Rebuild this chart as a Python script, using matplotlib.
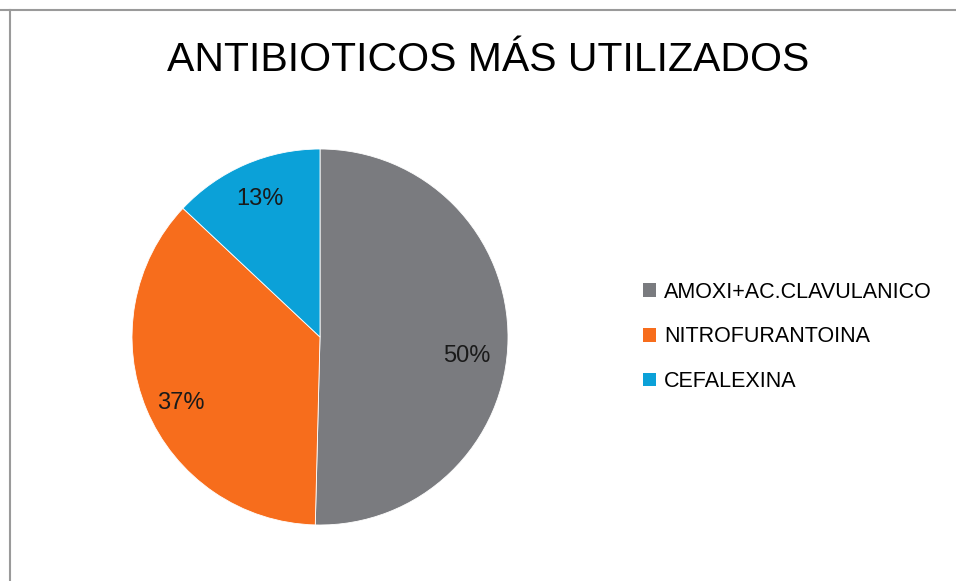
import matplotlib
matplotlib.use("Agg")
import matplotlib.pyplot as plt
from matplotlib.lines import Line2D
from matplotlib.patches import Patch

# --- Datos ---
titulo = "ANTIBIOTICOS MÁS UTILIZADOS"
antibioticos = ["AMOXI+AC.CLAVULANICO", "NITROFURANTOINA", "CEFALEXINA"]
porcentajes = [50.4, 36.6, 13.0]
colores = ["#7a7b7f", "#f76d1c", "#0ba1d8"]

plt.rcParams["font.family"] = ["Liberation Sans", "DejaVu Sans"]

fig = plt.figure(figsize=(9.56, 5.81), dpi=100)

# marco del gráfico (bordes superior e izquierdo)
fig.add_artist(Line2D([0, 1], [1 - 10 / 581] * 2, color="#9a9a9a", lw=1.5))
fig.add_artist(Line2D([10 / 956] * 2, [0, 1 - 10 / 581], color="#9a9a9a", lw=1.5))

fig.text(0.511, 0.897, titulo, ha="center", va="center", fontsize=29.5)

# --- Pastel ---
cx, cy, r = 320 / 956, 1 - 337 / 581, 188
w, h = 2 * r / 956, 2 * r / 581
ax = fig.add_axes([cx - w / 2, cy - h / 2, w, h])
wedges, _, autotexts = ax.pie(
    porcentajes, colors=colores, startangle=90, counterclock=False,
    autopct="%.0f%%", pctdistance=0.8,
    wedgeprops=dict(edgecolor="white", linewidth=0.6),
    textprops=dict(fontsize=17, color="#1a1a1a"),
)
# ajuste fino de etiquetas (colocación tipo Excel)
x0, y0 = autotexts[0].get_position()
autotexts[0].set_position((x0 - 0.02, y0 - 0.09))
x2, y2 = autotexts[1].get_position()
autotexts[1].set_position((x2, y2 - 0.04))
ax.set_xlim(-1, 1)
ax.set_ylim(-1, 1)
ax.set_aspect("auto")

# --- Leyenda ---
handles = [Patch(facecolor=c, edgecolor="none") for c in colores]
fig.legend(handles, antibioticos, loc="center left", bbox_to_anchor=(0.652, 0.42),
           frameon=False, fontsize=15.5, handlelength=0.6, handleheight=0.6,
           handletextpad=0.4, labelspacing=1.1)

fig.savefig("out.png", dpi=100)
